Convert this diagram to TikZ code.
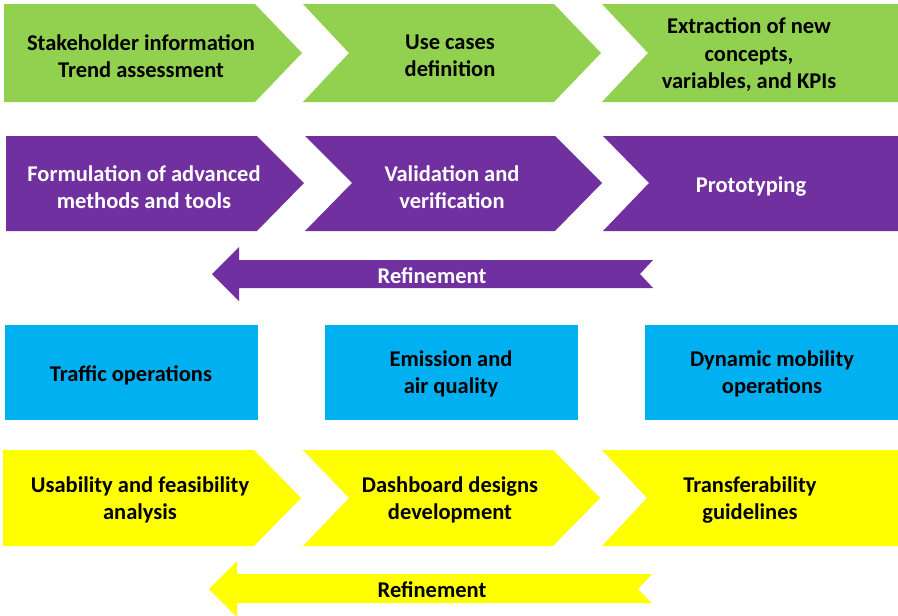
\documentclass[tikz,border=0pt]{standalone}
\usepackage{fontspec}
\setmainfont{Carlito}
\definecolor{cgreen}{HTML}{92D050}
\definecolor{cpurple}{HTML}{7030A0}
\definecolor{cblue}{HTML}{00B0F0}
\definecolor{cyellow}{HTML}{FFFF00}
\begin{document}
\begin{tikzpicture}[x=1pt,y=-1pt,
  lbl/.style={align=center,inner sep=0pt,font=\fontsize{22.5}{27.5}\selectfont\bfseries},
  dark/.style={lbl,text=black},
  light/.style={lbl,text=white}]
\useasboundingbox (0,0) rectangle (898,616);
% green row
\fill[cgreen] (4,4) -- (255,4) -- (302,53) -- (255,102) -- (4,102) -- cycle;
\fill[cgreen] (303,4) -- (554,4) -- (601,53) -- (554,102) -- (303,102) -- (349,53) -- cycle;
\fill[cgreen] (602,4) -- (898,4) -- (898,102) -- (602,102) -- (648,53) -- cycle;
\node[dark] (g1) at (141,56) {Stakeholder information\\Trend assessment};
\node[dark] (g2) at (450,56) {Use cases\\definition};
\node[dark] (g3) at (749,55) {Extraction of new\\concepts,\\variables, and KPIs};
% purple row
\fill[cpurple] (6,136) -- (257,136) -- (304,183) -- (257,231) -- (6,231) -- cycle;
\fill[cpurple] (305,136) -- (555,136) -- (602,183) -- (555,231) -- (305,231) -- (352,183) -- cycle;
\fill[cpurple] (603,136) -- (898,136) -- (898,231) -- (603,231) -- (649,183) -- cycle;
\node[light] (p1) at (144,187) {Formulation of advanced\\methods and tools};
\node[light] (p2) at (452,187) {Validation and\\verification};
\node[light] (p3) at (751,187) {Prototyping};
\fill[cpurple] (212,274) -- (239,247) -- (239,260) -- (653,260) -- (640,274) -- (653,288) -- (239,288) -- (239,301) -- cycle;
\node[light] (r1) at (432,276) {Refinement};
% blue row
\fill[cblue] (5,325) rectangle (258,420);
\fill[cblue] (325,325) rectangle (578,420);
\fill[cblue] (645,325) rectangle (898,420);
\node[dark] (b1) at (131,375) {Traffic operations};
\node[dark] (b2) at (451,374) {Emission and\\air quality};
\node[dark] (b3) at (772,374) {Dynamic mobility\\operations};
% yellow row
\fill[cyellow] (3,450) -- (254,450) -- (301,498) -- (254,546) -- (3,546) -- cycle;
\fill[cyellow] (303,450) -- (553,450) -- (600,498) -- (553,546) -- (303,546) -- (349,498) -- cycle;
\fill[cyellow] (602,450) -- (898,450) -- (898,546) -- (602,546) -- (647,498) -- cycle;
\node[dark] (y1) at (140,500) {Usability and feasibility\\analysis};
\node[dark] (y2) at (450,500) {Dashboard designs\\development};
\node[dark] (y3) at (750,500) {Transferability\\guidelines};
\fill[cyellow] (209,589) -- (237,561) -- (237,574) -- (652,574) -- (638,589) -- (652,603) -- (237,603) -- (237,617) -- cycle;
\node[dark] (r2) at (432,590) {Refinement};
\end{tikzpicture}
\end{document}
